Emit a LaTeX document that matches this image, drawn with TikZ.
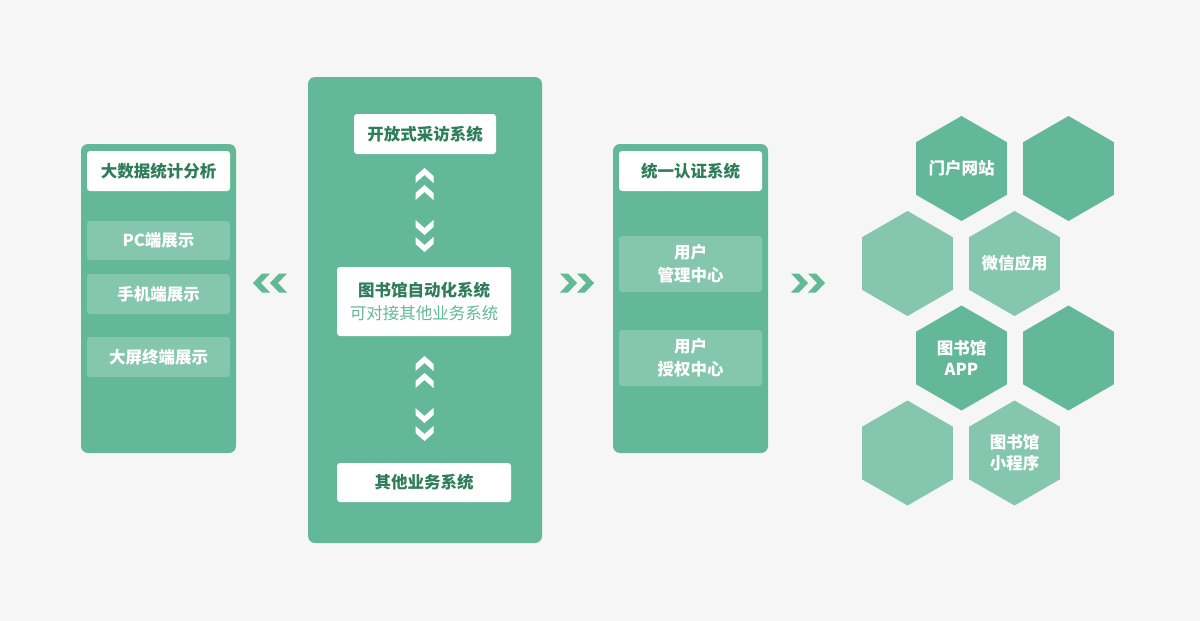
\documentclass[tikz,border=0pt]{standalone}
\usepackage{fontspec}
\setmainfont{Noto Sans CJK SC}
\usetikzlibrary{shapes.geometric}
\definecolor{bgc}{HTML}{F6F6F6}
\definecolor{pgreen}{HTML}{64B89A}
\definecolor{lgreen}{HTML}{85C7AE}
\definecolor{tgreen}{HTML}{2F7D5A}
\tikzset{
  panel/.style={fill=pgreen, rounded corners=7pt, inner sep=0pt, draw=none},
  wbox/.style={fill=white, rounded corners=3pt, inner sep=0pt, text=tgreen, align=center,
    font=\bfseries\fontsize{16.5}{24}\selectfont},
  lbox/.style={fill=lgreen, rounded corners=3pt, inner sep=0pt, text=white, align=center,
    font=\bfseries\fontsize{16.5}{23}\selectfont},
  hexbase/.style={regular polygon, regular polygon sides=6, shape border rotate=30,
    minimum size=105pt, inner sep=0pt},
  hexd/.style={hexbase, fill=pgreen},
  hexl/.style={hexbase, fill=lgreen},
  hextext/.style={text=white, align=center, inner sep=0pt,
    font=\bfseries\fontsize{16.5}{21}\selectfont},
  chev/.style={fill=white, draw=none},
  arr/.style={fill=pgreen, draw=none}
}
\newcommand\chevU[2]{\fill[chev] ({#1-9},{#2+8}) -- (#1,#2) -- ({#1+9},{#2+8}) -- ({#1+9},{#2+15}) -- (#1,{#2+7}) -- ({#1-9},{#2+15}) -- cycle;}
\newcommand\chevD[2]{\fill[chev] ({#1-9},#2) -- (#1,{#2+8}) -- ({#1+9},#2) -- ({#1+9},{#2+7}) -- (#1,{#2+15}) -- ({#1-9},{#2+7}) -- cycle;}
\newcommand\arrL[2]{\fill[arr] (#1,#2) -- ({#1+9},{#2-9.5}) -- ({#1+17},{#2-9.5}) -- ({#1+8},#2) -- ({#1+17},{#2+9.5}) -- ({#1+9},{#2+9.5}) -- cycle;}
\newcommand\arrR[2]{\fill[arr] (#1,#2) -- ({#1-9},{#2-9.5}) -- ({#1-17},{#2-9.5}) -- ({#1-8},#2) -- ({#1-17},{#2+9.5}) -- ({#1-9},{#2+9.5}) -- cycle;}
\begin{document}
\begin{tikzpicture}[x=1pt,y=-1pt]
\fill[bgc] (0,0) rectangle (1200,621);
\useasboundingbox (0,0) rectangle (1200,621);
% left panel
\node[panel, minimum width=155pt, minimum height=309pt] (lp) at (158.5,298.5) {};
\node[wbox, minimum width=143pt, minimum height=40pt] (lt) at (158.5,171) {大数据统计分析};
\node[lbox, minimum width=143pt, minimum height=39pt] (l1) at (158.5,240.5) {PC端展示};
\node[lbox, minimum width=143pt, minimum height=40pt] (l2) at (158.5,294) {手机端展示};
\node[lbox, minimum width=143pt, minimum height=40pt] (l3) at (158.5,357) {大屏终端展示};
% middle panel
\node[panel, minimum width=234pt, minimum height=466pt] (mp) at (425,310) {};
\node[wbox, minimum width=142pt, minimum height=40pt] (m1) at (425,134) {开放式采访系统};
\node[wbox, minimum width=174pt, minimum height=69pt] (m2) at (424,301.5) {图书馆自动化系统\\[-1pt]{\mdseries\color{pgreen}\fontsize{16.5}{24}\selectfont 可对接其他业务系统}};
\node[wbox, minimum width=174pt, minimum height=39pt] (m3) at (424,482.5) {其他业务系统};
\chevU{424.5}{168}\chevU{424.5}{185}
\chevD{424.5}{220}\chevD{424.5}{237}
\chevU{424.5}{356}\chevU{424.5}{373}
\chevD{424.5}{408}\chevD{424.5}{426}
% right panel
\node[panel, minimum width=155pt, minimum height=309pt] (rp) at (690.5,298.5) {};
\node[wbox, minimum width=143pt, minimum height=40pt] (rt) at (690.5,171) {统一认证系统};
\node[lbox, minimum width=143pt, minimum height=56pt] (r1) at (690.5,264) {用户\\管理中心};
\node[lbox, minimum width=143pt, minimum height=56pt] (r2) at (690.5,358) {用户\\授权中心};
% arrows
\arrL{253}{283}\arrL{270}{283}
\arrR{577}{283}\arrR{594}{283}
\arrR{808}{283}\arrR{825}{283}
% hexagons
\node[hexd] (h1) at (961.5,168.5) {};
\node[hexd] (h2) at (1068.5,168.5) {};
\node[hexl] (h3) at (907.5,263.5) {};
\node[hexl] (h4) at (1014.5,263.5) {};
\node[hexd] (h5) at (961.5,358) {};
\node[hexd] (h6) at (1068.5,358) {};
\node[hexl] (h7) at (907.5,453) {};
\node[hexl] (h8) at (1014.5,453) {};
\node[hextext] (t1) at (h1) {门户网站};
\node[hextext] (t4) at (h4) {微信应用};
\node[hextext] (t5) at (h5) {图书馆\\APP};
\node[hextext] (t8) at (h8) {图书馆\\小程序};
\end{tikzpicture}
\end{document}
